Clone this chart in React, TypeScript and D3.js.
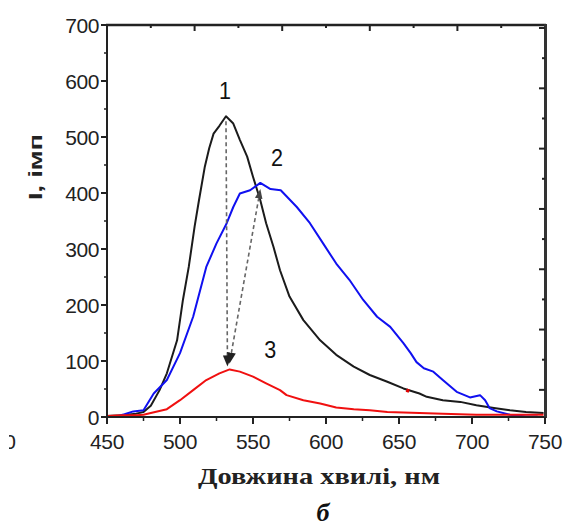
import React from "react";
import * as d3 from "d3";

// ---- data ----
const blackWave = [450, 460, 470, 475, 480, 486, 491, 498, 502, 506, 510, 513, 517, 520, 523, 527, 531.5, 536.5, 541, 546, 550, 555, 559, 564, 568.5, 575, 584.5, 596, 607, 619, 630, 642, 653, 664, 669, 680, 692, 703, 715, 726, 737, 749];
const blackInt = [2, 3, 6, 9, 20, 48, 78, 137, 209, 268, 340, 387, 447, 480, 506, 520, 537, 524, 495, 465, 429, 387, 346, 304, 262, 215, 173, 137, 111, 90, 75, 63, 51, 42, 36, 30, 27, 21, 16, 12, 9, 7];

const blueWave = [455, 462, 468, 475, 482, 491, 500, 509, 518, 525, 532, 536.5, 541, 548, 555, 562, 569, 580, 589, 598, 607, 616, 625.5, 635, 644, 653, 658, 662, 667, 673.5, 680, 689.5, 698.6, 705.5, 709, 712, 717, 726, 737, 745];
const blueInt = [0, 5, 10, 12, 42, 66, 114, 179, 268, 310, 346, 375, 399, 405, 418, 407, 405, 375, 346, 310, 274, 245, 209, 179, 161, 132, 114, 98, 87, 81, 66, 45, 35, 39, 30, 16, 10, 4, 1, 1];

const redWave = [450, 460, 470, 475, 480, 491, 500, 509, 518, 527, 534, 541, 550, 559, 568.5, 573, 584.5, 596, 607, 619, 630, 642, 653, 664, 680, 703, 726, 749];
const redInt = [2, 3, 3, 4, 7, 14, 30, 48, 66, 78, 85, 81, 72, 60, 48, 39, 30, 24, 17, 14, 12, 9, 8, 7, 6, 4, 4, 4];

const redMarkWave = [655, 657];
const redMarkInt = [48, 46];

const xTicks = [450, 500, 550, 600, 650, 700, 750];
const yTicks = [0, 100, 200, 300, 400, 500, 600, 700];

const curveLabels = ["1", "2", "3"];
const labelWave = [530.8, 566.5, 561.8];
const labelInt = [568, 448, 105];

// dashed arrows: [startWave, startInt, endWave, endInt]
const arrow1 = [531.5, 528, 532.5, 92];
const arrow2 = [554, 392, 534, 97];

const xTitle = "Довжина хвилі, нм";
const yTitle = "I, імп";
const panelLabel = "б";

export default function App() {
  const W = 565, H = 529;
  const left = 107, right = 545, top = 25, bottom = 417;
  const x = d3.scaleLinear().domain([450, 750]).range([left, right]);
  const y = d3.scaleLinear().domain([0, 700]).range([bottom, top]);
  // secondary frame scales (top / right ticks of the original frame)
  const xTop = d3.scaleLinear().domain([0, 10]).range([left, right]);
  const yRight = d3.scaleLinear().domain([0.1, 13.1]).range([bottom, top]);

  const line = d3.line<[number, number]>().x((d) => x(d[0])).y((d) => y(d[1]));
  const zip = (a: number[], b: number[]) => a.map((v, i) => [v, b[i]] as [number, number]);

  const xMinor = d3.range(475, 750, 50);
  const yMinor = d3.range(50, 700, 100);
  const topTicks = d3.range(1, 10);
  const rightTicks = d3.range(1, 14);

  const tickFont = "'Liberation Sans', Arial, sans-serif";

  return (
    <svg width={W} height={H} style={{ position: "absolute", left: 0, top: 0, background: "#fff" }}>
      <defs>
        <clipPath id="leftcut">
          <rect x={9} y={420} width={20} height={40} />
        </clipPath>
        <marker id="ah" viewBox="0 0 10 10" refX="9" refY="5" markerWidth="7" markerHeight="7" orient="auto">
          <path d="M0,1 L10,5 L0,9 z" fill="#222" />
        </marker>
        <marker id="ahs" viewBox="0 0 10 10" refX="1" refY="5" markerWidth="6" markerHeight="6" orient="auto-start-reverse">
          <path d="M0,1 L10,5 L0,9 z" fill="#444" />
        </marker>
      </defs>
      <rect x={0} y={0} width={W} height={H} fill="#fff" />

      {/* curves */}
      <path d={line(zip(blackWave, blackInt)) || ""} fill="none" stroke="#1b1b1b" strokeWidth={2} strokeLinejoin="round" />
      <path d={line(zip(blueWave, blueInt)) || ""} fill="none" stroke="#1010f0" strokeWidth={2} strokeLinejoin="round" />
      <path d={line(zip(redWave, redInt)) || ""} fill="none" stroke="#f01010" strokeWidth={2} strokeLinejoin="round" />
      <path d={line(zip(redMarkWave, redMarkInt)) || ""} fill="none" stroke="#e00000" strokeWidth={3.5} />

      {/* dashed arrows */}
      <line x1={x(arrow1[0])} y1={y(arrow1[1])} x2={x(arrow1[2])} y2={y(arrow1[3])}
        stroke="#666" strokeWidth={1.6} strokeDasharray="4,3" markerEnd="url(#ah)" />
      <line x1={x(arrow2[0])} y1={y(arrow2[1])} x2={x(arrow2[2])} y2={y(arrow2[3])}
        stroke="#666" strokeWidth={1.6} strokeDasharray="4,3" markerStart="url(#ahs)" markerEnd="url(#ah)" />

      {/* curve labels */}
      {curveLabels.map((t, i) => (
        <text key={t} x={x(labelWave[i])} y={y(labelInt[i])} textAnchor="middle"
          fontFamily={tickFont} fontSize={24} fill="#111"
          textLength={12} lengthAdjust="spacingAndGlyphs">{t}</text>
      ))}

      {/* frame */}
      <line x1={left} y1={top} x2={left} y2={bottom} stroke="#222" strokeWidth={2} />
      <line x1={left - 1} y1={bottom} x2={right + 1} y2={bottom} stroke="#222" strokeWidth={2} />
      <line x1={left - 1} y1={top} x2={right + 1} y2={top} stroke="#222" strokeWidth={2.5} />
      <line x1={right + 0.5} y1={top - 1} x2={right + 0.5} y2={bottom + 1} stroke="#333" strokeWidth={3} />

      {/* bottom ticks (outward) */}
      {xTicks.map((v) => (
        <line key={"xb" + v} x1={x(v)} x2={x(v)} y1={bottom} y2={bottom + 7} stroke="#222" strokeWidth={2} />
      ))}
      {xMinor.map((v) => (
        <line key={"xm" + v} x1={x(v)} x2={x(v)} y1={bottom} y2={bottom + 4} stroke="#222" strokeWidth={1.5} />
      ))}
      {/* left ticks (outward) */}
      {yTicks.map((v) => (
        <line key={"yl" + v} x1={left - 6} x2={left} y1={y(v)} y2={y(v)} stroke="#222" strokeWidth={2} />
      ))}
      {yMinor.map((v) => (
        <line key={"ym" + v} x1={left - 3} x2={left} y1={y(v)} y2={y(v)} stroke="#222" strokeWidth={1.5} />
      ))}
      {/* top ticks (inward) */}
      {topTicks.map((v) => (
        <line key={"xt" + v} x1={xTop(v)} x2={xTop(v)} y1={top} y2={top + (v % 2 === 0 ? 6 : 3)} stroke="#222" strokeWidth={2} />
      ))}
      {/* right ticks (inward) */}
      {rightTicks.map((v) => (
        <line key={"yr" + v} x1={right - (v % 2 === 1 ? 6 : 3)} x2={right} y1={yRight(v)} y2={yRight(v)} stroke="#222" strokeWidth={2} />
      ))}

      {/* tick labels */}
      {xTicks.map((v) => (
        <text key={"xl" + v} x={x(v)} y={449} textAnchor="middle" fontFamily={tickFont} fontSize={21}
          letterSpacing={-0.4} fill="#222">{v}</text>
      ))}
      {yTicks.map((v) => (
        <text key={"ylb" + v} x={99} y={y(v) + 7.5} textAnchor="end" fontFamily={tickFont} fontSize={21}
          letterSpacing={-0.4} fill="#222">{v}</text>
      ))}

      {/* partial label cut at left edge */}
      <g clipPath="url(#leftcut)">
        <text x={16} y={449} textAnchor="end" fontFamily={tickFont} fontSize={21} fill="#222">0</text>
      </g>

      {/* axis titles */}
      <text x={319} y={484} textAnchor="middle" fontFamily="'Liberation Serif', 'Times New Roman', serif"
        fontWeight="bold" fontSize={23} fill="#222" textLength={242} lengthAdjust="spacingAndGlyphs">{xTitle}</text>
      <text transform="translate(42,167) rotate(-90)" textAnchor="middle" fontFamily={tickFont}
        fontWeight="bold" fontSize={18} fill="#222" textLength={66} lengthAdjust="spacingAndGlyphs">{yTitle}</text>
      <text x={323} y={521} textAnchor="middle" fontFamily="'Liberation Serif', 'Times New Roman', serif"
        fontWeight="bold" fontStyle="italic" fontSize={26} fill="#111">{panelLabel}</text>
    </svg>
  );
}
